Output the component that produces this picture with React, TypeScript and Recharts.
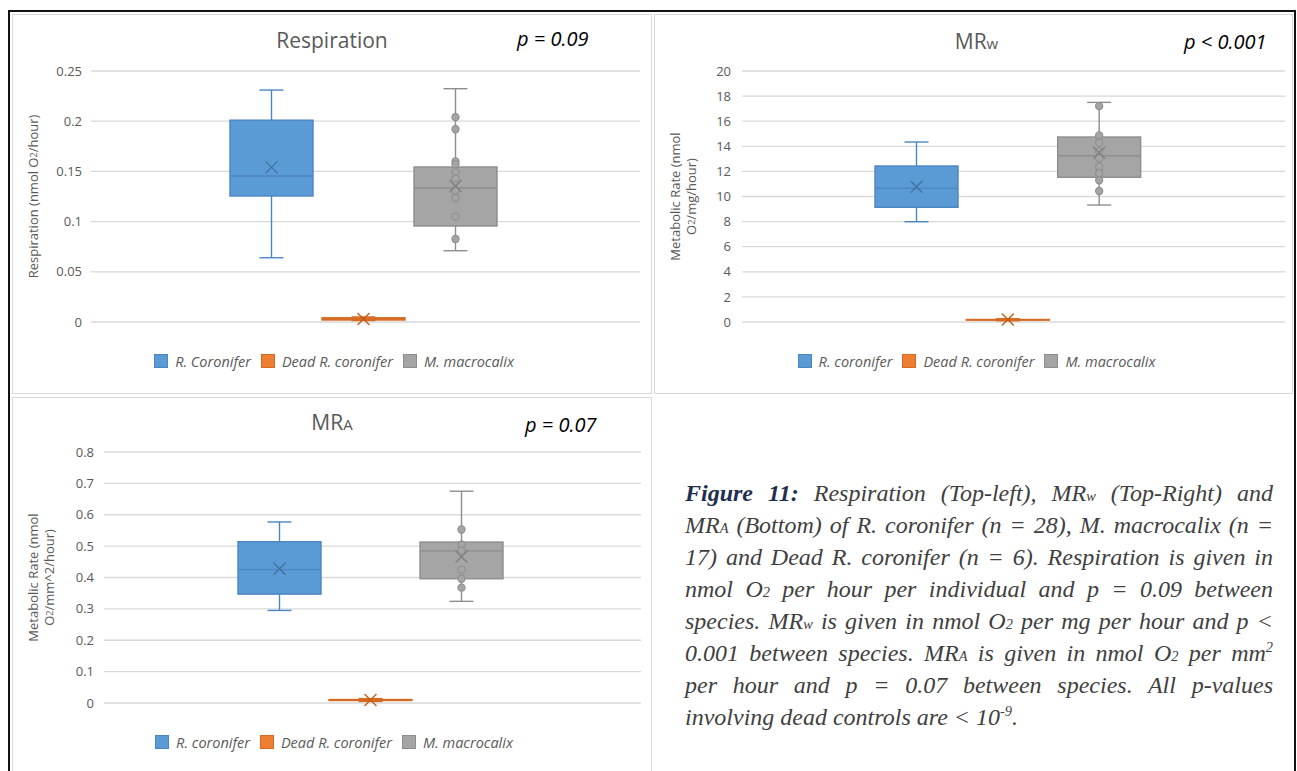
import React from 'react';
import { ComposedChart, Bar, XAxis, YAxis, CartesianGrid } from 'recharts';

const species = ['R. coronifer', 'Dead R. coronifer', 'M. macrocalix'];
const legendTopLeft = ['R. Coronifer', 'Dead R. coronifer', 'M. macrocalix'];

// Respiration (nmol O2/hour)
const respLow = [0.064, 0.0015, 0.071];
const respQ1 = [0.1255, 0.002, 0.0956];
const respMedian = [0.1454, 0.003, 0.1335];
const respQ3 = [0.201, 0.0042, 0.1544];
const respHigh = [0.231, 0.005, 0.2324];
const respMean = [0.154, 0.003, 0.1355];
const respPoints = [[], [], [0.204, 0.192, 0.16, 0.157, 0.149, 0.143, 0.131, 0.1235, 0.105, 0.0827]];
const respTicks = [0, 0.05, 0.1, 0.15, 0.2, 0.25];

// MRw (nmol O2/mg/hour)
const mrwLow = [7.99, 0.1, 9.32];
const mrwQ1 = [9.14, 0.15, 11.53];
const mrwMedian = [10.65, 0.18, 13.25];
const mrwQ3 = [12.43, 0.2, 14.74];
const mrwHigh = [14.34, 0.26, 17.5];
const mrwMean = [10.78, 0.2, 13.49];
const mrwPoints = [[], [], [17.2, 14.87, 14.29, 13.6, 13.04, 12.37, 11.85, 11.29, 10.44]];
const mrwTicks = [0, 2, 4, 6, 8, 10, 12, 14, 16, 18, 20];

// MRa (nmol O2/mm^2/hour)
const mraLow = [0.295, 0.005, 0.324];
const mraQ1 = [0.347, 0.008, 0.396];
const mraMedian = [0.425, 0.0095, 0.485];
const mraQ3 = [0.514, 0.011, 0.513];
const mraHigh = [0.577, 0.014, 0.675];
const mraMean = [0.428, 0.0095, 0.466];
const mraPoints = [[], [], [0.553, 0.5045, 0.485, 0.425, 0.396, 0.3676]];
const mraTicks = [0, 0.1, 0.2, 0.3, 0.4, 0.5, 0.6, 0.7, 0.8];

const palette = [
  { fill: '#5b9bd5', stroke: '#4a86c3', mark: '#41719c' },
  { fill: '#ed7d31', stroke: '#d66a22', mark: '#c55a11' },
  { fill: '#a5a5a5', stroke: '#8e8e8e', mark: '#7f7f7f' },
];

const FONT = '"Open Sans", sans-serif';
const GREY_TEXT = '#595959';

const buildRows = (
  low: number[], q1: number[], median: number[], q3: number[], high: number[],
  mean: number[], points: number[][]
) =>
  species.map((name, i) => ({
    name, low: low[i], q1: q1[i], median: median[i], q3: q3[i], high: high[i],
    mean: mean[i], points: points[i],
  }));

const respRows = buildRows(respLow, respQ1, respMedian, respQ3, respHigh, respMean, respPoints);
const mrwRows = buildRows(mrwLow, mrwQ1, mrwMedian, mrwQ3, mrwHigh, mrwMean, mrwPoints);
const mraRows = buildRows(mraLow, mraQ1, mraMedian, mraQ3, mraHigh, mraMean, mraPoints);

// the bar spans low..high; the rest of the box is placed on the same scale
function BoxShape(props: any) {
  const { x, y, width, height, payload } = props;
  if (!payload) return null;
  const c = palette[species.indexOf(payload.name)];
  const top = Math.min(y, y + height);
  const h = Math.abs(height);
  const span = payload.high - payload.low || 1;
  const toY = (v: number) => top + (h * (payload.high - v)) / span;
  const cx = x + width / 2;
  const cap = 12;
  const yHigh = toY(payload.high);
  const yLow = toY(payload.low);
  const yQ3 = toY(payload.q3);
  const yQ1 = toY(payload.q1);
  const yMed = toY(payload.median);
  const yMean = toY(payload.mean);
  const sw = 1.4;
  return (
    <g>
      <line x1={cx} x2={cx} y1={yHigh} y2={yQ3} stroke={c.stroke} strokeWidth={sw} />
      <line x1={cx} x2={cx} y1={yQ1} y2={yLow} stroke={c.stroke} strokeWidth={sw} />
      <line x1={cx - cap} x2={cx + cap} y1={yHigh} y2={yHigh} stroke={c.stroke} strokeWidth={sw} />
      <line x1={cx - cap} x2={cx + cap} y1={yLow} y2={yLow} stroke={c.stroke} strokeWidth={sw} />
      <rect x={x} y={yQ3} width={width} height={Math.max(yQ1 - yQ3, 0.6)} fill={c.fill} stroke={c.stroke} strokeWidth={sw} />
      <line x1={x} x2={x + width} y1={yMed} y2={yMed} stroke={c.stroke} strokeWidth={sw} />
      {payload.points.map((p: number, i: number) => (
        <circle key={i} cx={cx} cy={toY(p)} r={3.6} fill={c.fill} stroke={c.stroke} strokeWidth={1.1} />
      ))}
      <line x1={cx - 6} x2={cx + 6} y1={yMean - 6} y2={yMean + 6} stroke={c.mark} strokeWidth={1.3} />
      <line x1={cx - 6} x2={cx + 6} y1={yMean + 6} y2={yMean - 6} stroke={c.mark} strokeWidth={1.3} />
    </g>
  );
}

function AxisTitle({ viewBox, lines, cx, gap }: any) {
  const cy = viewBox.y + viewBox.height / 2;
  const first = -((lines.length - 1) * gap) / 2;
  return (
    <text
      transform={`rotate(-90 ${cx} ${cy})`}
      x={cx}
      y={cy}
      textAnchor="middle"
      dominantBaseline="central"
      fill={GREY_TEXT}
      fontSize={13}
      fontFamily={FONT}
    >
      {lines.map((l: React.ReactNode, i: number) => (
        <tspan key={i} x={cx} y={cy + first + i * gap}>{l}</tspan>
      ))}
    </text>
  );
}

const O2 = (
  <>
    O<tspan fontSize={9}>2</tspan>
  </>
);

function Legend({ names, left, top, width }: any) {
  return (
    <div
      style={{
        position: 'absolute', left, top, width, height: 16, display: 'flex',
        justifyContent: 'center', alignItems: 'center', fontFamily: FONT,
        fontStyle: 'italic', fontSize: 14.5, color: GREY_TEXT,
      }}
    >
      {names.map((n: string, i: number) => (
        <div key={n} style={{ display: 'flex', alignItems: 'center', marginLeft: i ? 10 : 0 }}>
          <span
            style={{
              width: 12, height: 12, background: palette[i].fill,
              border: `1px solid ${palette[i].stroke}`, marginRight: 7, display: 'inline-block',
            }}
          />
          <span>{n}</span>
        </div>
      ))}
    </div>
  );
}

function BoxChart({ rows, ticks, width, height, margin, yWidth, tickMargin, padding, axisLines, axisCx, axisGap }: any) {
  const max = ticks[ticks.length - 1];
  return (
    <ComposedChart width={width} height={height} data={rows} margin={margin}>
      <CartesianGrid vertical={false} stroke="#d9d9d9" strokeWidth={1.3} />
      <XAxis dataKey="name" type="category" hide padding={padding} />
      <YAxis
        type="number"
        domain={[0, max]}
        ticks={ticks}
        interval={0}
        width={yWidth}
        tickLine={false}
        axisLine={false}
        tickMargin={tickMargin}
        tick={{ fontSize: 13, fill: GREY_TEXT, fontFamily: FONT }}
        tickFormatter={(v: number) => String(v)}
        label={<AxisTitle lines={axisLines} cx={axisCx} gap={axisGap} />}
      />
      <Bar
        dataKey={(d: any) => [d.low, d.high]}
        barSize={83}
        shape={<BoxShape />}
        isAnimationActive={false}
      />
    </ComposedChart>
  );
}

const panelBorder = '1.5px solid #d9d9d9';

function Title({ left, width, top, main, sub }: any) {
  return (
    <div
      style={{
        position: 'absolute', left, width, top, textAlign: 'center', fontFamily: FONT,
        fontSize: 21, lineHeight: '21px', color: GREY_TEXT,
      }}
    >
      {main}
      {sub && <span style={{ fontSize: 15 }}>{sub}</span>}
    </div>
  );
}

function PValue({ left, top, text }: any) {
  return (
    <div
      style={{
        position: 'absolute', left, top, fontFamily: FONT, fontStyle: 'italic',
        fontSize: 20, lineHeight: '20px', color: '#000', whiteSpace: 'nowrap',
      }}
    >
      {text}
    </div>
  );
}

const sm = (t: string) => <span style={{ fontSize: '0.6em', lineHeight: 1 }}>{t}</span>;
const sup = (t: string) => (
  <span style={{ fontSize: '0.6em', lineHeight: 1, verticalAlign: '0.6em' }}>{t}</span>
);

const captionLines: React.ReactNode[] = [
  <>
    <b style={{ color: '#1f2f4f' }}>Figure 11:</b> Respiration (Top-left), MR{sm('w')} (Top-Right) and
  </>,
  <>MR{sm('A')} (Bottom) of R. coronifer (n = 28), M. macrocalix (n =</>,
  <>17) and Dead R. coronifer (n = 6). Respiration is given in</>,
  <>nmol O{sm('2')} per hour per individual and p = 0.09 between</>,
  <>species. MR{sm('w')} is given in nmol O{sm('2')} per mg per hour and p &lt;</>,
  <>0.001 between species. MR{sm('A')} is given in nmol O{sm('2')} per mm{sup('2')}</>,
  <>per hour and p = 0.07 between species. All p-values</>,
  <>involving dead controls are &lt; 10{sup('-9')}.</>,
];

export default function App() {
  return (
    <div
      style={{
        position: 'absolute', left: 0, top: 0, width: 1297, height: 771,
        overflow: 'hidden', background: '#fff',
      }}
    >
      {/* outer frame */}
      <div
        style={{
          position: 'absolute', left: 8, top: 10, width: 1288, height: 800,
          boxSizing: 'border-box', borderTop: '2px solid #111', borderLeft: '2px solid #111',
          borderRight: '2px solid #111',
        }}
      />
      {/* panels */}
      <div style={{ position: 'absolute', left: 12, top: 14, width: 640, height: 380, boxSizing: 'border-box', border: panelBorder }} />
      <div style={{ position: 'absolute', left: 654, top: 14, width: 639, height: 380, boxSizing: 'border-box', border: panelBorder }} />
      <div style={{ position: 'absolute', left: 12, top: 397, width: 640, height: 400, boxSizing: 'border-box', border: panelBorder }} />

      {/* Respiration */}
      <div style={{ position: 'absolute', left: 12, top: 14 }}>
        <BoxChart
          rows={respRows}
          ticks={respTicks}
          width={640}
          height={380}
          margin={{ top: 57, right: 12, bottom: 72, left: 19 }}
          yWidth={60}
          tickMargin={3}
          padding={{ left: 134, right: 139 }}
          axisLines={[<>Respiration (nmol {O2}/hour)</>]}
          axisCx={20.5}
          axisGap={16}
        />
      </div>
      <Title left={12} width={640} top={30} main="Respiration" />
      <PValue left={517} top={29} text="p = 0.09" />
      <Legend names={legendTopLeft} left={12} top={353} width={644} />

      {/* MRw */}
      <div style={{ position: 'absolute', left: 654, top: 14 }}>
        <BoxChart
          rows={mrwRows}
          ticks={mrwTicks}
          width={639}
          height={380}
          margin={{ top: 57, right: 8, bottom: 72, left: 38 }}
          yWidth={50}
          tickMargin={5}
          padding={{ left: 129, right: 140 }}
          axisLines={['Metabolic Rate (nmol', <>{O2}/mg/hour)</>]}
          axisCx={29}
          axisGap={16}
        />
      </div>
      <Title left={657} width={639} top={31} main="MR" sub="w" />
      <PValue left={1184} top={32} text="p < 0.001" />
      <Legend names={species} left={657} top={353} width={639} />

      {/* MRa */}
      <div style={{ position: 'absolute', left: 12, top: 397 }}>
        <BoxChart
          rows={mraRows}
          ticks={mraTicks}
          width={640}
          height={374}
          margin={{ top: 55, right: 11, bottom: 68, left: 42 }}
          yWidth={50}
          tickMargin={4}
          padding={{ left: 130, right: 134 }}
          axisLines={['Metabolic Rate (nmol', <>{O2}/mm^2/hour)</>]}
          axisCx={29}
          axisGap={16}
        />
      </div>
      <Title left={12} width={640} top={412} main="MR" sub="A" />
      <PValue left={525} top={415} text="p = 0.07" />
      <Legend names={species} left={12} top={734} width={644} />

      {/* caption */}
      <div
        style={{
          position: 'absolute', left: 685, top: 477, width: 588,
          fontFamily: '"Liberation Serif", serif',
          fontStyle: 'italic', fontSize: 24, lineHeight: '32px', color: '#404040',
        }}
      >
        {captionLines.map((l, i) => (
          <div
            key={i}
            style={{
              height: 32,
              textAlign: i < captionLines.length - 1 ? 'justify' : 'left',
              textAlignLast: i < captionLines.length - 1 ? 'justify' : 'left',
              whiteSpace: 'nowrap',
            }}
          >
            {l}
          </div>
        ))}
      </div>
    </div>
  );
}
